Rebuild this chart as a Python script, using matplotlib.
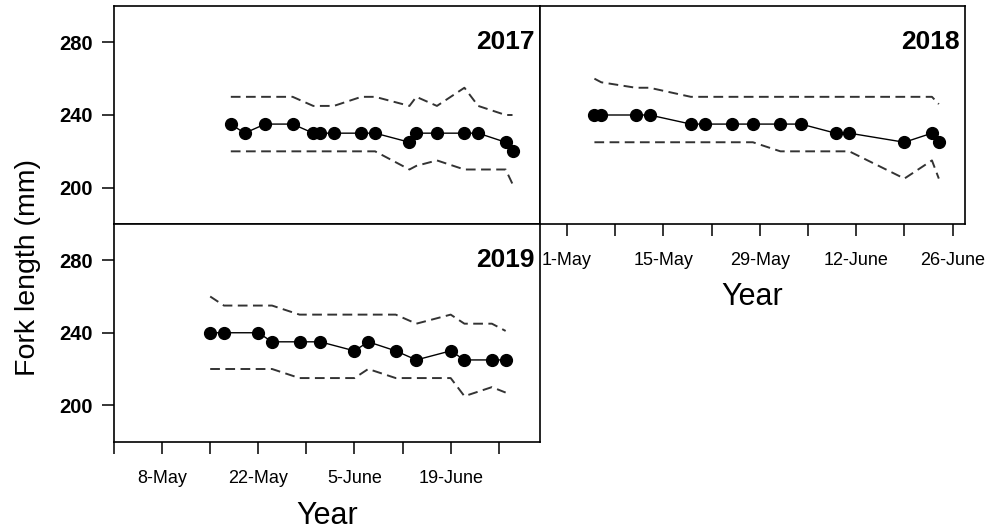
import matplotlib
matplotlib.use("Agg")
import matplotlib.pyplot as plt

plt.rcParams['font.family'] = ['Liberation Sans', 'DejaVu Sans']

# sampling days, counted from 1 May, with median fork length and the band around it
days_2017 = [17, 19, 22, 26, 29, 30, 32, 36, 38, 43, 44, 47, 51, 53, 57, 58]
fl_2017 = [235, 230, 235, 235, 230, 230, 230, 230, 230, 225, 230, 230, 230, 230, 225, 220]
upper_2017 = [250, 250, 250, 250, 245, 245, 245, 250, 250, 245, 250, 245, 255, 245, 240, 240]
lower_2017 = [220, 220, 220, 220, 220, 220, 220, 220, 220, 210, 212, 215, 210, 210, 210, 202]

days_2018 = [4, 5, 10, 12, 18, 20, 24, 27, 31, 34, 39, 41, 49, 53, 54]
fl_2018 = [240, 240, 240, 240, 235, 235, 235, 235, 235, 235, 230, 230, 225, 230, 225]
upper_2018 = [260, 258, 255, 255, 250, 250, 250, 250, 250, 250, 250, 250, 250, 250, 246]
lower_2018 = [225, 225, 225, 225, 225, 225, 225, 225, 220, 220, 220, 220, 205, 215, 205]

days_2019 = [14, 16, 21, 23, 27, 30, 35, 37, 41, 44, 49, 51, 55, 57]
fl_2019 = [240, 240, 240, 235, 235, 235, 230, 235, 230, 225, 230, 225, 225, 225]
upper_2019 = [260, 255, 255, 255, 250, 250, 250, 250, 250, 245, 250, 245, 245, 241]
lower_2019 = [220, 220, 220, 220, 215, 215, 215, 220, 215, 215, 215, 205, 210, 207]

y_ticks = [200, 240, 280]
week_ticks = [0, 7, 14, 21, 28, 35, 42, 49, 56]
labels_right = ['1-May', '', '15-May', '', '29-May', '', '12-June', '', '26-June']
labels_left = ['', '8-May', '', '22-May', '', '5-June', '', '19-June', '']

W, H = 987, 531
fig = plt.figure(figsize=(W / 100, H / 100), dpi=100)


def box(x0, y0, x1, y1):
    # pixel box (from top-left) -> figure fraction rect
    return [x0 / W, 1 - y1 / H, (x1 - x0) / W, (y1 - y0) / H]


ax17 = fig.add_axes(box(114, 6, 540, 224))
ax18 = fig.add_axes(box(540, 6, 965, 224))
ax19 = fig.add_axes(box(114, 224, 540, 441.5))

panels = [
    (ax17, '2017', days_2017, fl_2017, upper_2017, lower_2017, (0, 62)),
    (ax18, '2018', days_2018, fl_2018, upper_2018, lower_2018, (-3.9, 57.8)),
    (ax19, '2019', days_2019, fl_2019, upper_2019, lower_2019, (0, 62)),
]

for ax, year, d, fl, up, lo, xl in panels:
    ax.plot(d, up, color='#333333', lw=1.4, dashes=(5, 2.8))
    ax.plot(d, lo, color='#333333', lw=1.4, dashes=(5, 2.8))
    ax.plot(d, fl, color='black', lw=1.0, marker='o', markersize=8.5)
    ax.set_xlim(*xl)
    ax.set_ylim(180, 300)
    ax.text(0.988, 0.835, year, transform=ax.transAxes, ha='right', va='center',
            fontsize=19, fontweight='bold')
    for s in ax.spines.values():
        s.set_linewidth(1.2)
    ax.tick_params(direction='out', length=8.5, width=1.1, colors='black')

# y axes on the left column
for ax in (ax17, ax19):
    ax.set_yticks(y_ticks)
    ax.set_yticklabels([str(v) for v in y_ticks], fontsize=14.5, fontweight='bold')
    ax.tick_params(axis='y', pad=7)
ax18.set_yticks([])

# x axes: top-left has none, the others show weekly ticks
ax17.set_xticks([])
ax18.set_xticks(week_ticks)
ax18.set_xticklabels(labels_right, fontsize=13)
ax19.set_xticks(week_ticks)
ax19.set_xticklabels(labels_left, fontsize=13)
for ax in (ax18, ax19):
    ax.tick_params(axis='x', pad=12)

fig.text(752 / W, 1 - 297 / H, 'Year', ha='center', va='center', fontsize=22)
fig.text(327 / W, 1 - 516 / H, 'Year', ha='center', va='center', fontsize=22)
fig.text(28 / W, 1 - 268 / H, 'Fork length (mm)', ha='center', va='center',
         rotation=90, fontsize=20.5)

fig.savefig('out.png', dpi=100)
